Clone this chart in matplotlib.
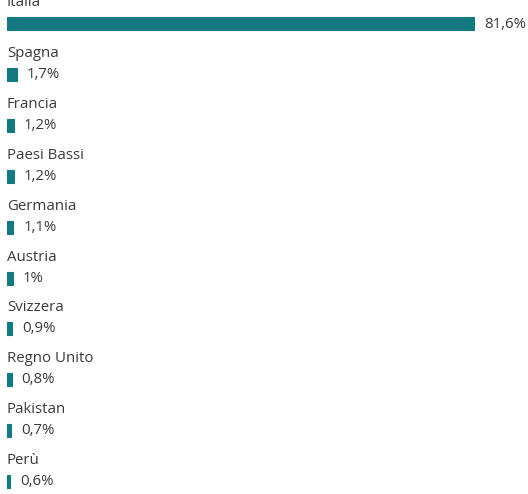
import matplotlib.pyplot as plt
from matplotlib.transforms import offset_copy

countries = ["Italia", "Spagna", "Francia", "Paesi Bassi", "Germania",
             "Austria", "Svizzera", "Regno Unito", "Pakistan", "Perù"]
shares = [81.6, 1.7, 1.2, 1.2, 1.1, 1.0, 0.9, 0.8, 0.7, 0.6]
share_labels = ["81,6%", "1,7%", "1,2%", "1,2%", "1,1%",
                "1%", "0,9%", "0,8%", "0,7%", "0,6%"]

bar_color = "#157a7f"
text_color = "#3a3a3a"
plt.rcParams['font.family'] = ['Open Sans', 'DejaVu Sans']

fig = plt.figure(figsize=(5.28, 4.94), dpi=100)
ax = fig.add_axes([0, 0, 1, 1])
ax.set_axis_off()

# pixel-like layout: x scale so that 81.6 spans ~467px starting at 7px
px_per_unit = 467 / 81.6
ax.set_xlim(-7 / px_per_unit, (528 - 7) / px_per_unit)
ax.set_ylim(494, 0)

row_gap = 50.8
first_bar = 24
ys = [first_bar + i * row_gap for i in range(len(countries))]

ax.barh(ys, shares, height=13, left=0, color=bar_color,
        edgecolor=bar_color, linewidth=0.8)

val_trans = offset_copy(ax.transData, fig=fig, x=10, y=0, units='dots')
for y, name, v, lab in zip(ys, countries, shares, share_labels):
    ax.text(0, y - 21, name, fontsize=10.8, color=text_color,
            va='center', ha='left')
    ax.text(v, y, lab, fontsize=10.8, color=text_color, va='center',
            ha='left', transform=val_trans)

fig.savefig("out.png", dpi=100)
